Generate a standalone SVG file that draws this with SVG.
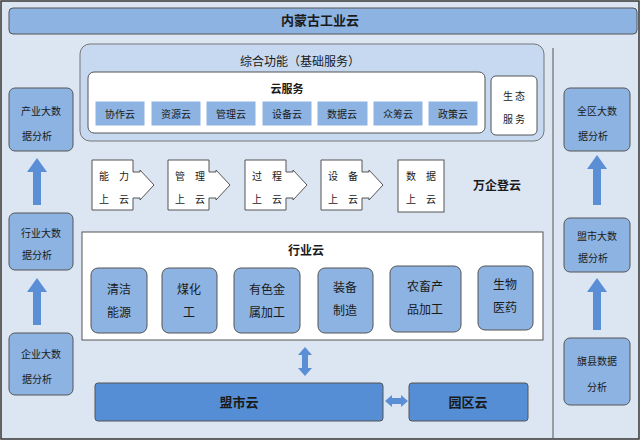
<svg xmlns="http://www.w3.org/2000/svg" width="640" height="440" viewBox="0 0 640 440">
<style>
text{font-family:"Noto Sans CJK SC","Liberation Sans",sans-serif;fill:#1a1a1a;text-anchor:middle}
.b{fill:#8db3e2;stroke:#555;stroke-width:1}
.s{fill:#8db3e2;stroke:#fff;stroke-width:1}
.w{fill:#fff;stroke:#555;stroke-width:1}
.d{fill:#558ed5;stroke:#555;stroke-width:1}
.ar{fill:#5a8fd6}
.t10{font-size:10px}.t11{font-size:11px}.t12{font-size:12px}.t13{font-size:13px}
.bold{font-weight:bold}
</style>
<rect x="1" y="1" width="638" height="438" fill="#dce6f2" stroke="#333" stroke-width="1.5"/>
<g id="title"><rect x="9" y="8" width="628" height="26" rx="4" class="b"/><text x="320" y="25" class="t13 bold">内蒙古工业云</text></g>
<line x1="553" y1="48" x2="553" y2="438" stroke="#555"/>
<g id="base">
<rect x="80" y="44" width="464" height="97" rx="10" fill="#c6d9f0" stroke="#777"/>
<text x="300" y="66" class="t12">综合功能（基础服务）</text>
<rect x="88" y="72" width="397" height="61" rx="6" class="w"/>
<text x="287" y="93" class="t11 bold">云服务</text>
<g class="t10">
<rect x="95" y="101" width="50" height="25" class="s"/><text x="120" y="118">协作云</text>
<rect x="151" y="101" width="50" height="25" class="s"/><text x="176" y="118">资源云</text>
<rect x="206" y="101" width="50" height="25" class="s"/><text x="231" y="118">管理云</text>
<rect x="262" y="101" width="50" height="25" class="s"/><text x="287" y="118">设备云</text>
<rect x="317" y="101" width="51" height="25" class="s"/><text x="342" y="118">数据云</text>
<rect x="373" y="101" width="50" height="25" class="s"/><text x="398" y="118">众筹云</text>
<rect x="428" y="101" width="50" height="25" class="s"/><text x="453" y="118">政策云</text>
</g>
<rect x="491" y="76" width="46" height="59" rx="5" class="w"/>
<text x="514" y="100" class="t10">生 态</text><text x="514" y="123" class="t10">服 务</text>
</g>
<g id="left" class="t10">
<rect x="9" y="88" width="64" height="63" rx="6" class="b"/><text x="41" y="115">产业大数</text><text x="37" y="140">据分析</text>
<rect x="9" y="213" width="64" height="57" rx="6" class="b"/><text x="41" y="237">行业大数</text><text x="37" y="259">据分析</text>
<rect x="9" y="333" width="64" height="62" rx="6" class="b"/><text x="41" y="358">企业大数</text><text x="37" y="383">据分析</text>
</g>
<g id="right" class="t10">
<rect x="564" y="88" width="66" height="63" rx="6" class="b"/><text x="597" y="115">全区大数</text><text x="593" y="140">据分析</text>
<rect x="564" y="218" width="66" height="54" rx="6" class="b"/><text x="597" y="240">盟市大数</text><text x="593" y="262">据分析</text>
<rect x="564" y="338" width="66" height="67" rx="6" class="b"/><text x="597" y="365">旗县数据</text><text x="597" y="391">分析</text>
</g>
<g id="steps" class="t10">
<path d="M92 160h41v12h7l0-2l14 15l-14 15v-2h-7v12h-41z" class="w"/><text x="104" y="180">能</text><text x="124" y="180">力</text><text x="104" y="203">上</text><text x="124" y="203">云</text>
<path d="M168 160h41v12h7l0-2l14 15l-14 15v-2h-7v12h-41z" class="w"/><text x="180" y="180">管</text><text x="200" y="180">理</text><text x="180" y="203">上</text><text x="200" y="203">云</text>
<path d="M245 160h41v12h7l0-2l14 15l-14 15v-2h-7v12h-41z" class="w"/><text x="257" y="180">过</text><text x="277" y="180">程</text><text x="257" y="203">上</text><text x="277" y="203">云</text>
<path d="M321 160h41v12h7l0-2l14 15l-14 15v-2h-7v12h-41z" class="w"/><text x="333" y="180">设</text><text x="353" y="180">备</text><text x="333" y="203">上</text><text x="353" y="203">云</text>
<rect x="398" y="160" width="46" height="52" class="w"/><text x="411" y="180">数</text><text x="431" y="180">据</text><text x="411" y="203">上</text><text x="431" y="203">云</text>
<text x="497" y="190" class="t12 bold">万企登云</text>
</g>
<g id="industry">
<rect x="82" y="232" width="461" height="108" class="w"/>
<text x="306" y="255" class="t12 bold">行业云</text>
<g class="t12">
<rect x="91" y="268" width="56" height="65" rx="7" class="b"/><text x="119" y="294">清洁</text><text x="119" y="317">能源</text>
<rect x="162" y="268" width="55" height="65" rx="7" class="b"/><text x="189" y="294">煤化</text><text x="189" y="317">工</text>
<rect x="234" y="268" width="66" height="65" rx="7" class="b"/><text x="267" y="294">有色金</text><text x="267" y="317">属加工</text>
<rect x="318" y="268" width="55" height="65" rx="7" class="b"/><text x="345" y="292">装备</text><text x="345" y="315">制造</text>
<rect x="390" y="266" width="71" height="66" rx="7" class="b"/><text x="425" y="291">农畜产</text><text x="425" y="314">品加工</text>
<rect x="478" y="266" width="55" height="64" rx="7" class="b"/><text x="505" y="289">生物</text><text x="505" y="312">医药</text>
</g>
</g>
<g id="league"><rect x="95" y="383" width="288" height="38" rx="3" class="d"/><text x="239" y="407" class="t13 bold">盟市云</text></g>
<g id="park"><rect x="409" y="383" width="119" height="38" rx="3" class="d"/><text x="468" y="407" class="t13 bold">园区云</text></g>
<g id="connectors" class="ar">
<path d="M37 158l-10 14h6v33h8v-33h6z"/>
<path d="M37 278l-10 14h6v33h8v-33h6z"/>
<path d="M597 155l-10 14h6v36h8v-36h6z"/>
<path d="M597 278l-10 14h6v38h8v-38h6z"/>
<path d="M305 347l-7 8h4v13h-4l7 8l7-8h-4v-13h4z"/>
<path d="M385 401l7-6v3h9v-3l7 6l-7 6v-3h-9v3z"/>
</g>
</svg>
